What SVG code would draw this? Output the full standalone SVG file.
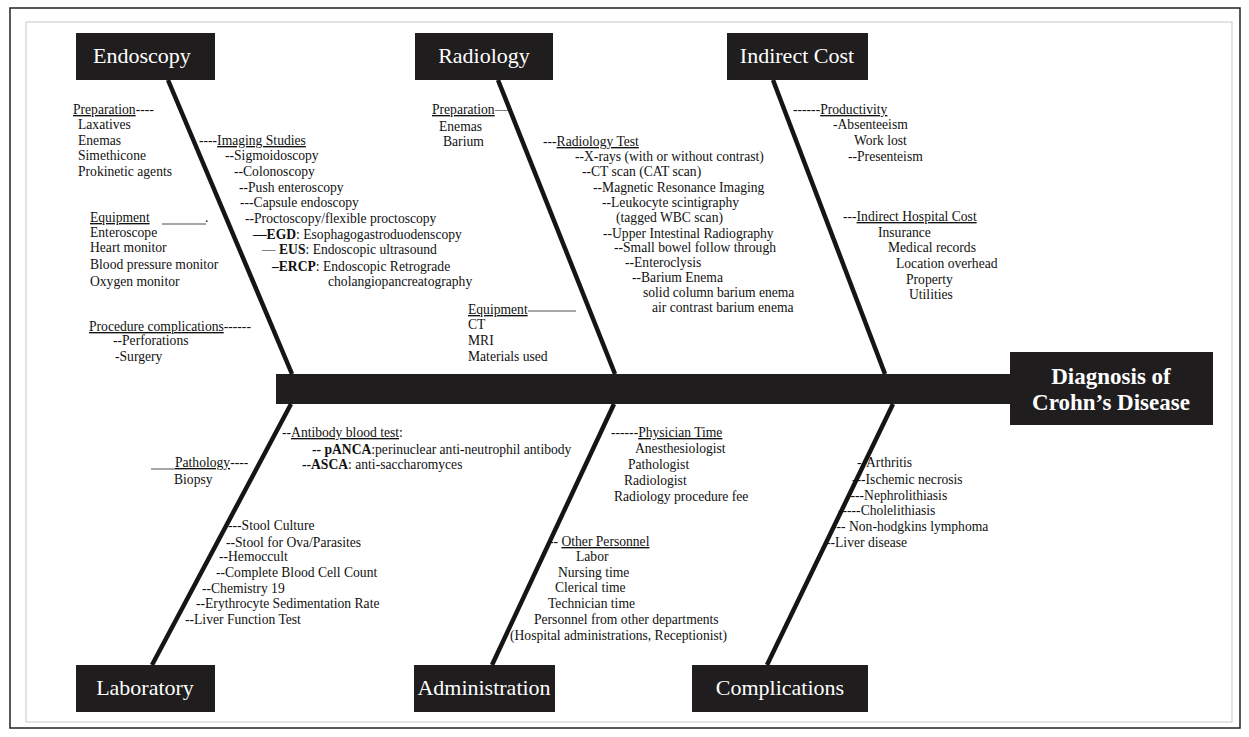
<svg xmlns="http://www.w3.org/2000/svg" width="1249" height="737" viewBox="0 0 1249 737">
<style>
.t{font-family:"Liberation Serif","Times New Roman",serif;font-size:13.6px;fill:#111}
.u{text-decoration:underline}
.b{font-weight:bold}
.lbl{font-family:"Liberation Serif","Times New Roman",serif;font-size:22px;fill:#fff;text-anchor:middle}
.hd{font-family:"Liberation Serif","Times New Roman",serif;font-size:23px;font-weight:bold;fill:#fff;text-anchor:middle}
.box{fill:#1f1d1e}
.bone{stroke:#151515;stroke-width:4.5;fill:none;stroke-linecap:butt}
.thin{stroke:#222;stroke-width:0.8}
</style>
<rect x="0" y="0" width="1249" height="737" fill="#fff"/>
<rect x="10" y="8" width="1230" height="720" fill="none" stroke="#222" stroke-width="1.5"/>
<rect x="26" y="22" width="1206" height="700" fill="none" stroke="#bbb" stroke-width="0.8"/>

<g id="connectors">
<rect x="276" y="374" width="740" height="30" class="box"/>
<line class="bone" x1="168" y1="80" x2="292" y2="374"/>
<line class="bone" x1="498" y1="80" x2="615" y2="374"/>
<line class="bone" x1="773" y1="80" x2="885" y2="374"/>
<line class="bone" x1="291" y1="404" x2="152" y2="665"/>
<line class="bone" x1="614" y1="404" x2="492" y2="665"/>
<line class="bone" x1="893" y1="404" x2="767" y2="665"/>
</g>

<g id="diagnosis">
<rect x="1010" y="352" width="203" height="73" class="box"/>
<text class="hd" x="1111" y="384">Diagnosis of</text>
<text class="hd" x="1111" y="410">Crohn’s Disease</text>
</g>

<g id="endoscopy">
<rect x="76" y="33" width="139" height="47" class="box"/>
<text class="lbl" x="142" y="63">Endoscopy</text>
<text class="t" x="73" y="114"><tspan class="u">Preparation</tspan>----</text>
<text class="t" x="78" y="129">Laxatives</text>
<text class="t" x="78" y="145">Enemas</text>
<text class="t" x="78" y="160">Simethicone</text>
<text class="t" x="78" y="176">Prokinetic agents</text>
<text class="t" x="90" y="222"><tspan class="u">Equipment</tspan></text>
<line class="thin" x1="162" y1="224" x2="206" y2="224"/>
<text class="t" x="205" y="222">.</text>
<text class="t" x="90" y="237">Enteroscope</text>
<text class="t" x="90" y="252">Heart monitor</text>
<text class="t" x="90" y="269">Blood pressure monitor</text>
<text class="t" x="90" y="286">Oxygen monitor</text>
<text class="t" x="199" y="145">----<tspan class="u">Imaging Studies</tspan></text>
<text class="t" x="225" y="160">--Sigmoidoscopy</text>
<text class="t" x="234" y="176">--Colonoscopy</text>
<text class="t" x="239" y="192">--Push enteroscopy</text>
<text class="t" x="240" y="207">---Capsule endoscopy</text>
<text class="t" x="245" y="223">--Proctoscopy/flexible proctoscopy</text>
<text class="t" x="253" y="239"><tspan class="b">—EGD</tspan>: Esophagogastroduodenscopy</text>
<text class="t" x="262" y="254">— <tspan class="b">EUS</tspan>: Endoscopic ultrasound</text>
<text class="t" x="272" y="271"><tspan class="b">–ERCP</tspan>: Endoscopic Retrograde</text>
<text class="t" x="328" y="286">cholangiopancreatography</text>
<text class="t" x="89" y="331"><tspan class="u">Procedure complications</tspan>------</text>
<text class="t" x="113" y="345">--Perforations</text>
<text class="t" x="115" y="361">-Surgery</text>
</g>

<g id="radiology">
<rect x="415" y="33" width="138" height="47" class="box"/>
<text class="lbl" x="484" y="63">Radiology</text>
<text class="t" x="432" y="114"><tspan class="u">Preparation</tspan>—</text>
<text class="t" x="439" y="131">Enemas</text>
<text class="t" x="443" y="146">Barium</text>
<text class="t" x="543" y="146">---<tspan class="u">Radiology Test</tspan></text>
<text class="t" x="575" y="161">--X-rays (with or without contrast)</text>
<text class="t" x="582" y="176">--CT scan (CAT scan)</text>
<text class="t" x="593" y="192">--Magnetic Resonance Imaging</text>
<text class="t" x="602" y="207">--Leukocyte scintigraphy</text>
<text class="t" x="616" y="222">(tagged WBC scan)</text>
<text class="t" x="603" y="238">--Upper Intestinal Radiography</text>
<text class="t" x="614" y="252">--Small bowel follow through</text>
<text class="t" x="625" y="267">--Enteroclysis</text>
<text class="t" x="632" y="282">--Barium Enema</text>
<text class="t" x="643" y="297">solid column barium enema</text>
<text class="t" x="652" y="312">air contrast barium enema</text>
<text class="t" x="468" y="314"><tspan class="u">Equipment</tspan></text>
<line class="thin" x1="528" y1="311" x2="576" y2="311"/>
<text class="t" x="468" y="329">CT</text>
<text class="t" x="468" y="345">MRI</text>
<text class="t" x="468" y="361">Materials used</text>
</g>

<g id="indirect-cost">
<rect x="727" y="33" width="141" height="47" class="box"/>
<text class="lbl" x="797" y="63">Indirect Cost</text>
<text class="t" x="793" y="114">------<tspan class="u">Productivity</tspan></text>
<text class="t" x="833" y="129">-Absenteeism</text>
<text class="t" x="854" y="145">Work lost</text>
<text class="t" x="848" y="161">--Presenteism</text>
<text class="t" x="843" y="221">---<tspan class="u">Indirect Hospital Cost</tspan></text>
<text class="t" x="878" y="237">Insurance</text>
<text class="t" x="888" y="252">Medical records</text>
<text class="t" x="896" y="268">Location overhead</text>
<text class="t" x="906" y="284">Property</text>
<text class="t" x="909" y="299">Utilities</text>
</g>

<g id="laboratory">
<rect x="76" y="665" width="139" height="47" class="box"/>
<text class="lbl" x="145" y="695">Laboratory</text>
<text class="t" x="282" y="437">--<tspan class="u">Antibody blood test</tspan>:</text>
<text class="t" x="312" y="454"><tspan class="b">-- pANCA</tspan>:perinuclear anti-neutrophil antibody</text>
<text class="t" x="302" y="469"><tspan class="b">--ASCA</tspan>: anti-saccharomyces</text>
<line class="thin" x1="151" y1="469" x2="175" y2="469"/>
<text class="t" x="175" y="467"><tspan class="u">Pathology</tspan>----</text>
<text class="t" x="174" y="484">Biopsy</text>
<text class="t" x="228" y="530">---Stool Culture</text>
<text class="t" x="226" y="547">--Stool for Ova/Parasites</text>
<text class="t" x="219" y="561">--Hemoccult</text>
<text class="t" x="216" y="577">--Complete Blood Cell Count</text>
<text class="t" x="202" y="593">--Chemistry 19</text>
<text class="t" x="196" y="608">--Erythrocyte Sedimentation Rate</text>
<text class="t" x="185" y="624">--Liver Function Test</text>
</g>

<g id="administration">
<rect x="414" y="665" width="141" height="47" class="box"/>
<text class="lbl" x="484" y="695">Administration</text>
<text class="t" x="611" y="437">------<tspan class="u">Physician Time</tspan></text>
<text class="t" x="635" y="453">Anesthesiologist</text>
<text class="t" x="628" y="469">Pathologist</text>
<text class="t" x="624" y="485">Radiologist</text>
<text class="t" x="614" y="501">Radiology procedure fee</text>
<text class="t" x="549" y="546">-- <tspan class="u">Other Personnel</tspan></text>
<text class="t" x="576" y="561">Labor</text>
<text class="t" x="558" y="577">Nursing time</text>
<text class="t" x="555" y="592">Clerical time</text>
<text class="t" x="548" y="608">Technician time</text>
<text class="t" x="534" y="624">Personnel from other departments</text>
<text class="t" x="510" y="640">(Hospital administrations, Receptionist)</text>
</g>

<g id="complications">
<rect x="692" y="665" width="176" height="47" class="box"/>
<text class="lbl" x="780" y="695">Complications</text>
<text class="t" x="857" y="467">--Arthritis</text>
<text class="t" x="852" y="484">---Ischemic necrosis</text>
<text class="t" x="846" y="500">----Nephrolithiasis</text>
<text class="t" x="838" y="515">-----Cholelithiasis</text>
<text class="t" x="832" y="531">--- Non-hodgkins lymphoma</text>
<text class="t" x="826" y="547">--Liver disease</text>
</g>
</svg>
